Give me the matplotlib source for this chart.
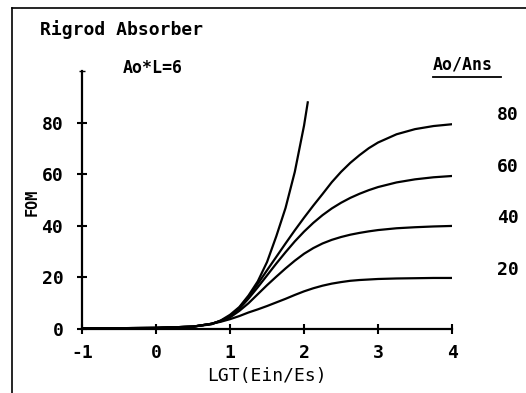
import numpy as np
import matplotlib.pyplot as plt
from matplotlib.lines import Line2D

plt.rcParams['font.family'] = 'DejaVu Sans Mono'
plt.rcParams['font.weight'] = 'bold'

# LGT(Ein/Es) grid
x = [-1.0, -0.5, 0.0, 0.5, 0.75, 0.875, 1.0, 1.125, 1.25, 1.375, 1.5, 1.625, 1.75, 1.875,
     2.0, 2.125, 2.25, 2.375, 2.5, 2.625, 2.75, 2.875, 3.0, 3.25, 3.5, 3.75, 4.0]

fom_20 = [0.2, 0.3, 0.4, 0.9, 2.0, 2.8, 3.8, 5.0, 6.4, 7.6, 8.9, 10.3, 11.7, 13.2,
          14.6, 15.8, 16.8, 17.6, 18.2, 18.7, 19.0, 19.2, 19.4, 19.6, 19.7, 19.8, 19.8]
fom_40 = [0.2, 0.3, 0.4, 0.9, 2.0, 3.0, 4.5, 7.0, 10.0, 13.5, 17.0, 20.3, 23.5, 26.5,
          29.2, 31.4, 33.2, 34.6, 35.7, 36.6, 37.3, 37.9, 38.4, 39.1, 39.5, 39.8, 40.0]
fom_60 = [0.2, 0.3, 0.4, 0.9, 2.0, 3.1, 4.8, 7.8, 11.8, 16.2, 20.8, 25.4, 29.8, 34.0,
          37.8, 41.2, 44.2, 46.8, 49.0, 50.9, 52.5, 53.9, 55.1, 56.9, 58.1, 58.9, 59.4]
fom_80 = [0.2, 0.3, 0.4, 0.9, 2.0, 3.2, 5.0, 8.2, 12.5, 17.5, 22.8, 28.0, 33.2, 38.3,
          43.2, 47.9, 52.4, 57.0, 61.0, 64.5, 67.5, 70.2, 72.4, 75.6, 77.6, 78.8, 79.5]

# no saturable limit: steep curve, stops near the top
x_steep = [-1.0, -0.5, 0.0, 0.5, 0.75, 0.875, 1.0, 1.125, 1.25, 1.375, 1.5, 1.625, 1.75, 1.875, 2.0, 2.05]
fom_steep = [0.2, 0.3, 0.4, 0.9, 1.8, 3.3, 5.5, 8.5, 13.0, 18.5, 26.0, 36.0, 47.0, 61.0, 79.0, 88.0]

ratio_labels = ['80', '60', '40', '20']
ratio_y = [83, 63, 43, 23]

fig = plt.figure(figsize=(5.26, 3.93), dpi=100)
ax = fig.add_axes([0.156, 0.163, 0.7034, 0.6552])

for ys in [fom_20, fom_40, fom_60, fom_80]:
    ax.plot(x, ys, color='black', lw=1.6)
ax.plot(x_steep, fom_steep, color='black', lw=1.6)

ax.set_xlim(-1, 4)
ax.set_ylim(0, 100)
ax.spines['top'].set_visible(False)
ax.spines['right'].set_visible(False)
ax.spines['left'].set_linewidth(1.6)
ax.spines['bottom'].set_linewidth(1.6)
ax.set_xticks([-1, 0, 1, 2, 3, 4])
ax.set_xticklabels(['-1', '0', '1', '2', '3', '4'])
ax.set_yticks([0, 20, 40, 60, 80])
ax.set_yticks([100], minor=True)
ax.tick_params(axis='both', direction='inout', length=7, width=1.5, labelsize=13)
ax.tick_params(axis='y', which='minor', direction='inout', length=5, width=1.0)
ax.tick_params(axis='y', pad=10)
ax.tick_params(axis='x', pad=7)

ax.set_xlabel('LGT(Ein/Es)', fontsize=13, labelpad=4)
fig.text(0.062, 0.485, 'FOM', rotation=90, fontsize=11, ha='center', va='center')

fig.text(0.076, 0.924, 'Rigrod Absorber', fontsize=13, ha='left', va='center')
fig.text(0.234, 0.827, 'Ao*L=6', fontsize=12, ha='left', va='center')
fig.text(0.823, 0.835, 'Ao/Ans', fontsize=12, ha='left', va='center')
fig.add_artist(Line2D([0.823, 0.952], [0.803, 0.803], color='black', lw=1.3))

for lab, yv in zip(ratio_labels, ratio_y):
    ax.text(4.75, yv, lab, fontsize=13, ha='center', va='center', clip_on=False)

# outer frame (left and top edges)
fig.add_artist(Line2D([0.023, 0.023], [0.0, 0.98], color='black', lw=1.2))
fig.add_artist(Line2D([0.023, 1.0], [0.98, 0.98], color='black', lw=1.2))

fig.savefig('out.png', dpi=100)
